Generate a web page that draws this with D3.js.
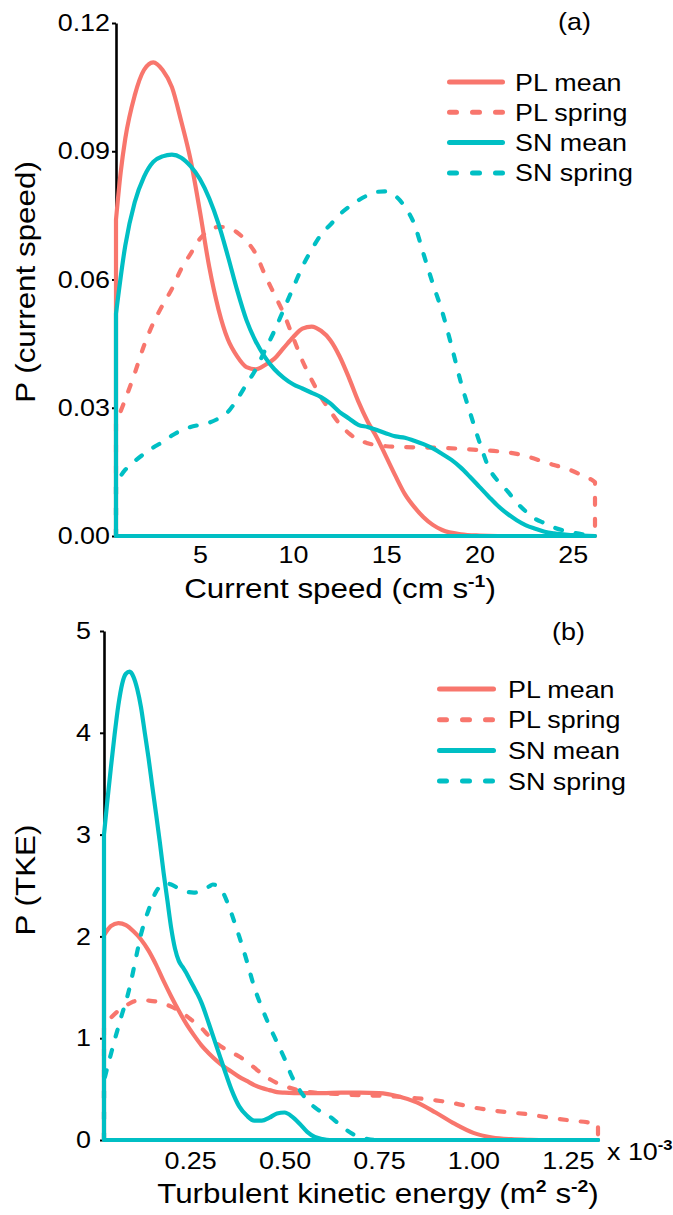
<!DOCTYPE html>
<html><head><meta charset="utf-8">
<script src="https://cdn.jsdelivr.net/npm/d3@7"></script>
<style>body{margin:0;background:#fff}</style>
</head><body>
<svg id="chart" width="673" height="1215"></svg>
<script>
// ---------- data ----------
const seriesNames = ["PL mean", "PL spring", "SN mean", "SN spring"];
const seriesColors = ["#F8766D", "#F8766D", "#00BFC4", "#00BFC4"];
const seriesDashed = [false, true, false, true];

const speedTicks = [5, 10, 15, 20, 25];
const speedProbTicks = [0, 0.03, 0.06, 0.09, 0.12];
const tkeTicks = [0.25, 0.5, 0.75, 1.0, 1.25];
const tkeProbTicks = [0, 1, 2, 3, 4, 5];

// (a) current speed densities: [speed cm/s, P]
const plMeanA = [[0.5,0.074],[0.75,0.085],[1,0.093],[1.5,0.103],[2,0.109],[2.5,0.1108],[3,0.109],[3.5,0.105],[4,0.097],[4.5,0.088],[5,0.076],[5.5,0.063],[6,0.053],[6.5,0.046],[7,0.042],[7.5,0.0395],[8,0.039],[8.5,0.040],[9,0.0415],[9.5,0.044],[10,0.0465],[10.5,0.0485],[11,0.049],[11.5,0.048],[12,0.0458],[12.5,0.042],[13,0.037],[13.5,0.0315],[14,0.0268],[14.5,0.023],[15,0.0185],[15.5,0.014],[16,0.0098],[16.5,0.0068],[17,0.0044],[17.5,0.0026],[18,0.0014],[19,0.0004],[20,0.0001],[21,0],[26.2,0]];
const plSpringA = [[0.5,0.0264],[1,0.032],[1.5,0.038],[2,0.0445],[2.5,0.0498],[3,0.054],[3.5,0.0578],[4,0.0625],[4.5,0.066],[5,0.0695],[5.5,0.0715],[6,0.0723],[6.5,0.0722],[7,0.071],[7.5,0.069],[8,0.066],[8.5,0.061],[9,0.0565],[9.5,0.052],[10,0.0465],[10.5,0.041],[11,0.0365],[11.5,0.0325],[12,0.0292],[12.5,0.0262],[13,0.024],[13.5,0.0225],[14,0.0217],[15,0.021],[16,0.0208],[17,0.0207],[18,0.0206],[19,0.0204],[20,0.0201],[21,0.0198],[22,0.0192],[22.5,0.0187],[23,0.018],[23.5,0.0173],[24,0.0166],[24.5,0.016],[25,0.0152],[25.5,0.0142],[26,0.0132],[26.2,0.0126]];
const snMeanA = [[0.5,0.052],[1,0.068],[1.5,0.078],[2,0.084],[2.5,0.0875],[3,0.0888],[3.5,0.0892],[4,0.0885],[4.5,0.0865],[5,0.0835],[5.5,0.079],[6,0.073],[6.5,0.0655],[7,0.0575],[7.5,0.0505],[8,0.0455],[8.5,0.0418],[9,0.039],[9.5,0.037],[10,0.0355],[10.5,0.0345],[11,0.0335],[11.5,0.0325],[12,0.031],[12.5,0.029],[13,0.0275],[13.5,0.026],[14,0.0255],[14.5,0.0248],[15,0.024],[15.5,0.0233],[16,0.023],[16.5,0.0223],[17,0.0215],[17.5,0.0205],[18,0.0192],[18.5,0.0178],[19,0.016],[19.5,0.0138],[20,0.0115],[20.5,0.0092],[21,0.007],[21.5,0.0052],[22,0.0037],[22.5,0.0025],[23,0.0017],[23.5,0.001],[24,0.0006],[25,0.0002],[26.2,0]];
const snSpringA = [[0.5,0.0124],[1,0.0155],[1.5,0.0175],[2,0.0192],[2.5,0.0207],[3,0.022],[3.5,0.0235],[4,0.0247],[4.5,0.0255],[5,0.026],[5.5,0.0265],[6,0.0275],[6.5,0.029],[7,0.032],[7.5,0.0355],[8,0.039],[8.5,0.0435],[9,0.048],[9.5,0.053],[10,0.058],[10.5,0.063],[11,0.067],[11.5,0.0705],[12,0.0728],[12.5,0.0752],[13,0.077],[13.5,0.0785],[14,0.0797],[14.5,0.0805],[15,0.0806],[15.5,0.0795],[16,0.077],[16.5,0.073],[17,0.066],[17.5,0.059],[18,0.0525],[18.5,0.0445],[19,0.036],[19.5,0.0288],[20,0.022],[20.5,0.016],[21,0.0128],[21.5,0.0105],[22,0.0078],[22.5,0.0057],[23,0.004],[23.5,0.003],[24,0.002],[25,0.0008],[26.2,0.0001]];

// (b) TKE densities: [TKE x10^-3 m2/s2, P]
const plMeanB = [[0.022,2.01],[0.04,2.1],[0.06,2.13],[0.08,2.11],[0.10,2.05],[0.12,1.97],[0.14,1.86],[0.16,1.72],[0.18,1.56],[0.20,1.41],[0.22,1.27],[0.24,1.14],[0.26,1.03],[0.28,0.93],[0.30,0.85],[0.32,0.78],[0.34,0.72],[0.36,0.67],[0.38,0.62],[0.40,0.58],[0.42,0.54],[0.44,0.51],[0.46,0.49],[0.48,0.47],[0.50,0.465],[0.55,0.46],[0.60,0.46],[0.65,0.465],[0.70,0.465],[0.75,0.46],[0.80,0.43],[0.85,0.37],[0.90,0.27],[0.95,0.16],[1.00,0.07],[1.05,0.025],[1.10,0.008],[1.15,0.002],[1.20,0],[1.33,0]];
const plSpringB = [[0.022,1.13],[0.04,1.2],[0.06,1.27],[0.08,1.32],[0.10,1.36],[0.12,1.375],[0.14,1.37],[0.16,1.36],[0.18,1.34],[0.20,1.31],[0.22,1.27],[0.24,1.22],[0.26,1.16],[0.28,1.1],[0.30,1.02],[0.32,0.95],[0.34,0.9],[0.36,0.86],[0.38,0.82],[0.40,0.77],[0.42,0.71],[0.44,0.65],[0.46,0.6],[0.48,0.56],[0.50,0.53],[0.55,0.48],[0.60,0.46],[0.65,0.45],[0.70,0.44],[0.75,0.435],[0.80,0.425],[0.85,0.41],[0.90,0.39],[0.95,0.36],[1.00,0.32],[1.05,0.29],[1.10,0.27],[1.15,0.25],[1.20,0.22],[1.25,0.195],[1.30,0.175],[1.33,0.16]];
const snMeanB = [[0.022,3.0],[0.03,3.3],[0.04,3.65],[0.05,3.98],[0.06,4.27],[0.07,4.48],[0.08,4.58],[0.09,4.6],[0.10,4.55],[0.11,4.43],[0.12,4.25],[0.13,4.0],[0.14,3.75],[0.15,3.47],[0.16,3.2],[0.17,2.92],[0.18,2.62],[0.19,2.35],[0.20,2.08],[0.21,1.88],[0.22,1.76],[0.23,1.7],[0.24,1.64],[0.25,1.57],[0.26,1.5],[0.27,1.43],[0.28,1.35],[0.30,1.14],[0.32,0.92],[0.34,0.7],[0.36,0.49],[0.38,0.33],[0.40,0.24],[0.42,0.19],[0.44,0.19],[0.46,0.22],[0.48,0.26],[0.50,0.27],[0.52,0.23],[0.54,0.16],[0.56,0.08],[0.58,0.03],[0.60,0.01],[0.62,0],[1.33,0]];
const snSpringB = [[0.022,0.58],[0.03,0.7],[0.04,0.84],[0.05,0.98],[0.06,1.11],[0.07,1.24],[0.08,1.36],[0.09,1.5],[0.10,1.67],[0.11,1.85],[0.12,2.02],[0.13,2.15],[0.14,2.26],[0.15,2.36],[0.16,2.44],[0.17,2.49],[0.18,2.52],[0.19,2.52],[0.20,2.51],[0.22,2.47],[0.24,2.44],[0.26,2.43],[0.28,2.45],[0.30,2.49],[0.31,2.51],[0.32,2.5],[0.33,2.47],[0.34,2.41],[0.35,2.32],[0.36,2.22],[0.37,2.11],[0.38,2.0],[0.40,1.76],[0.42,1.5],[0.44,1.3],[0.46,1.12],[0.48,0.96],[0.50,0.8],[0.52,0.62],[0.54,0.49],[0.56,0.39],[0.58,0.32],[0.60,0.27],[0.62,0.23],[0.64,0.17],[0.66,0.11],[0.68,0.06],[0.70,0.03],[0.72,0.01],[0.75,0],[1.33,0]];

// ---------- drawing ----------
const S = 1.12;
const FONT = "'Liberation Sans', Arial, Helvetica, sans-serif";
const svg = d3.select("#chart");

function label(x, y, parts, size, anchor, rotate) {
  const g = svg.append("g").attr("transform",
    `translate(${x},${y})` + (rotate ? " rotate(-90)" : "") + ` scale(${S},1)`);
  const t = g.append("text").attr("font-size", size).attr("font-family", FONT)
    .attr("text-anchor", anchor).attr("fill", "#000");
  let off = 0;
  parts.forEach(p => {
    const ts = t.append("tspan").text(p.t);
    const target = p.sup ? -size * 0.4 : 0;
    ts.attr("dy", target - off);
    off = target;
    if (p.sup) ts.attr("font-size", size * 0.62).attr("font-weight", "bold");
  });
  return g;
}

function panel(cfg) {
  const x = d3.scaleLinear().domain(cfg.xDomain).range(cfg.xRange);
  const y = d3.scaleLinear().domain(cfg.yDomain).range(cfg.yRange);
  const g = svg.append("g");

  const xAxis = g.append("g").attr("transform", `translate(0,${cfg.yRange[0]})`)
    .call(d3.axisBottom(x).tickValues(cfg.xTicks).tickFormat(cfg.xFmt)
      .tickSize(0).tickSizeOuter(0).tickPadding(cfg.xPad));
  const yAxis = g.append("g").attr("transform", `translate(${cfg.xRange[0]},0)`)
    .call(d3.axisLeft(y).tickValues(cfg.yTicks).tickFormat(cfg.yFmt)
      .tickSize(4).tickSizeOuter(0).tickPadding(cfg.yPad));
  [xAxis, yAxis].forEach(a => {
    a.select(".domain").attr("stroke", "#000").attr("stroke-width", 2.6);
    a.selectAll(".tick line").attr("stroke", "#000").attr("stroke-width", 2);
    a.selectAll(".tick text").attr("font-size", 24).attr("font-family", FONT)
      .attr("fill", "#000").attr("transform", `scale(${S},1)`);
  });
  yAxis.selectAll(".tick text").attr("x", -(4 + cfg.yPad) / S);

  const line = d3.line().x(d => x(d[0])).y(d => y(d[1])).curve(d3.curveMonotoneX);
  const order = [0, 1, 3, 2];
  order.forEach(i => {
    const data = cfg.series[i];
    const x0 = data[0][0], x1 = data[data.length - 1][0];
    const d = `M${x(x0)},${y(0)}L` + line(data).substring(1) + `L${x(x1)},${y(0)}Z`;
    g.append("path").attr("d", d).attr("fill", "none")
      .attr("stroke", seriesColors[i]).attr("stroke-width", 4.2)
      .attr("stroke-linejoin", "round")
      .attr("stroke-linecap", seriesDashed[i] ? "round" : "butt")
      .attr("stroke-dasharray", seriesDashed[i] ? "7,14" : null);
  });

  // legend
  seriesNames.forEach((n, i) => {
    const ly = cfg.legY + i * cfg.legStep;
    g.append("line").attr("x1", cfg.legX1).attr("x2", cfg.legX2)
      .attr("y1", ly).attr("y2", ly)
      .attr("stroke", seriesColors[i]).attr("stroke-width", 5)
      .attr("stroke-linecap", "round")
      .attr("stroke-dasharray", seriesDashed[i] ? "7,16" : null);
    label(cfg.legTextX, ly + 8.5, [{t: n}], 24, "start", false);
  });
}

panel({
  xDomain: [0.5, 26.2], xRange: [116, 595],
  yDomain: [0, 0.12], yRange: [536, 23],
  xTicks: speedTicks, yTicks: speedProbTicks,
  xFmt: d3.format("d"), yFmt: d3.format(".2f"),
  xPad: 10, yPad: 2,
  series: [plMeanA, plSpringA, snMeanA, snSpringA],
  legX1: 449.5, legX2: 502.5, legTextX: 515, legY: 82, legStep: 30.3
});

panel({
  xDomain: [0.022, 1.33], xRange: [104, 598],
  yDomain: [0, 5], yRange: [1140, 631],
  xTicks: tkeTicks, yTicks: tkeProbTicks,
  xFmt: d3.format(".2f"), yFmt: d3.format("d"),
  xPad: 12, yPad: 9,
  series: [plMeanB, plSpringB, snMeanB, snSpringB],
  legX1: 439.5, legX2: 493.5, legTextX: 508, legY: 689, legStep: 30.7
});

// titles & panel letters
label(558, 30, [{t: "(a)"}], 24, "start", false);
label(552, 640, [{t: "(b)"}], 24, "start", false);
label(340, 598, [{t: "Current speed (cm s"}, {t: "-1", sup: true}, {t: ")"}], 28, "middle", false);
label(378, 1203, [{t: "Turbulent kinetic energy (m"}, {t: "2", sup: true}, {t: " s"}, {t: "-2", sup: true}, {t: ")"}], 28, "middle", false);
label(35, 282, [{t: "P (current speed)"}], 28, "middle", true);
label(35, 880, [{t: "P (TKE)"}], 28, "middle", true);
label(607, 1160, [{t: "x 10"}, {t: "-3", sup: true}], 24, "start", false);
</script>
</body></html>
